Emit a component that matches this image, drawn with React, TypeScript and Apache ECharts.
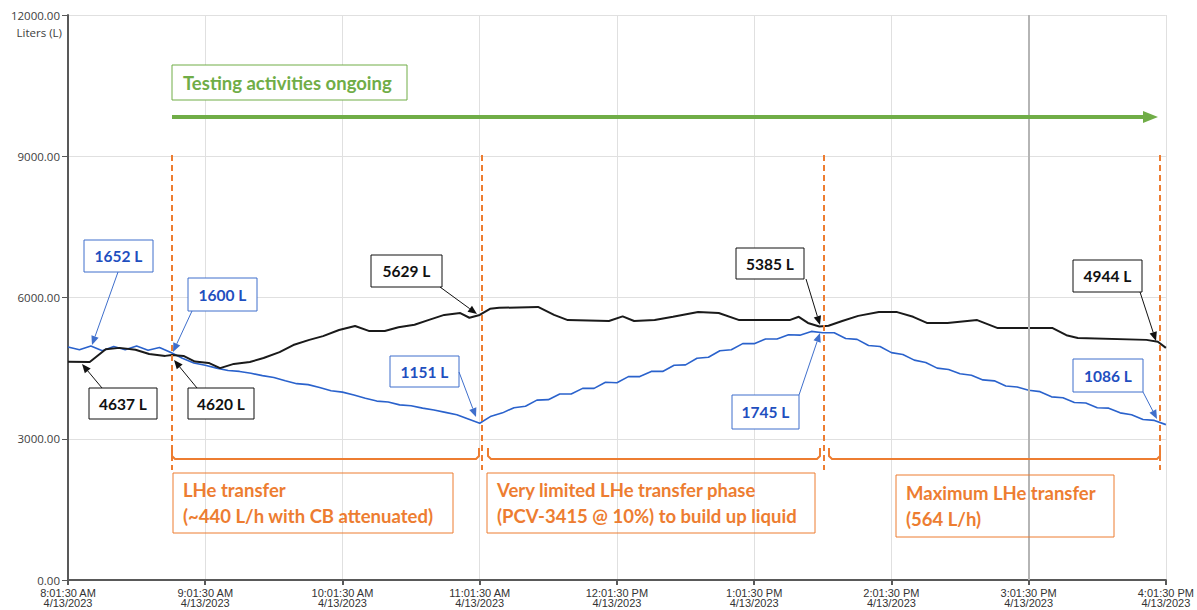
import React, { useEffect, useRef } from "react";
import * as echarts from "echarts";

// ---- data ----
const startTime = "08:01:30";
const xTickDate = "4/13/2023";
const yTicks = [0, 3000, 6000, 9000, 12000];

const blackTimes = [
  "08:01:30", "08:11:00", "08:18:00", "08:24:00", "08:31:00", "08:37:00", "08:44:00", "08:47:00",
  "08:52:00", "08:57:00", "09:03:00", "09:08:00", "09:14:00", "09:21:00", "09:27:00", "09:34:00",
  "09:40:00", "09:47:00", "09:53:00", "10:00:00", "10:07:00", "10:13:00", "10:20:00", "10:26:00",
  "10:33:00", "10:39:00", "10:46:00", "10:53:00", "10:57:00", "11:01:30", "11:06:00", "11:10:00",
  "11:27:00", "11:34:00", "11:40:00", "11:58:00", "12:04:00", "12:09:00", "12:18:00", "12:26:00",
  "12:37:00", "12:46:00", "12:55:00", "13:17:00", "13:21:00", "13:25:00", "13:30:00", "13:34:00",
  "13:40:00", "13:47:00", "13:56:00", "14:04:00", "14:11:00", "14:17:00", "14:26:00", "14:39:00",
  "14:48:00", "15:12:00", "15:18:00", "15:23:00", "15:53:00", "15:58:00", "16:01:30",
];
const blackValues = [
  4637, 4630, 4900, 4930, 4890, 4800, 4760, 4780,
  4760, 4640, 4610, 4500, 4590, 4630, 4715, 4840,
  4990, 5100, 5180, 5310, 5395, 5290, 5290, 5370,
  5420, 5520, 5630, 5670, 5570, 5629, 5760, 5780,
  5800, 5630, 5520, 5500, 5600, 5500, 5520, 5590,
  5690, 5670, 5520, 5520, 5590, 5460, 5385, 5400,
  5500, 5610, 5690, 5690, 5590, 5460, 5460, 5520,
  5350, 5350, 5200, 5140, 5100, 5060, 4930,
];

// blue series sampled every 5 minutes from 08:01:30
const blueStepMin = 5;
const blueValues = [
  4950, 4890, 4970, 4870, 4960, 4890, 4970, 4880, 4940, 4830,
  4710, 4610, 4560, 4500, 4450, 4430, 4390, 4340, 4300, 4230,
  4170, 4150, 4090, 4020, 3990, 3930, 3860, 3800, 3780, 3720,
  3700, 3650, 3610, 3560, 3510, 3420, 3330, 3480, 3550, 3660,
  3690, 3820, 3830, 3950, 3950, 4070, 4070, 4200, 4190, 4320,
  4320, 4430, 4430, 4560, 4570, 4710, 4730, 4870, 4890, 5020,
  5020, 5120, 5120, 5210, 5200, 5280, 5250, 5250, 5130, 5110,
  4980, 4960, 4830, 4790, 4670, 4620, 4500, 4470, 4380, 4350,
  4250, 4230, 4120, 4100, 4030, 4000, 3890, 3870, 3770, 3760,
  3660, 3650, 3550, 3510, 3410, 3390, 3300,
];

const callouts = [
  { text: "1652 L", kind: "blue", box: [84, 240, 69, 32], from: [118, 272], to: [92, 345] },
  { text: "1600 L", kind: "blue", box: [188, 278, 69, 33], from: [192, 311], to: [173, 352] },
  { text: "4637 L", kind: "black", box: [89, 388, 68, 31], from: [102, 388], to: [82, 364] },
  { text: "4620 L", kind: "black", box: [188, 388, 66, 31], from: [197, 388], to: [174, 360] },
  { text: "5629 L", kind: "black", box: [371, 255, 71, 32], from: [440, 287], to: [477, 314] },
  { text: "1151 L", kind: "blue", box: [390, 356, 69, 31], from: [459, 372], to: [476, 417] },
  { text: "5385 L", kind: "black", box: [736, 248, 68, 31], from: [806, 279], to: [820, 325] },
  { text: "1745 L", kind: "blue", box: [732, 395, 67, 34], from: [799, 395], to: [820, 333] },
  { text: "4944 L", kind: "black", box: [1073, 260, 69, 32], from: [1140, 292], to: [1156, 341] },
  { text: "1086 L", kind: "blue", box: [1073, 359, 70, 33], from: [1143, 392], to: [1157, 419] },
];

const phaseTexts = [
  { lines: "LHe transfer\n(~440 L/h with CB attenuated)", box: [173, 473, 280, 60] },
  { lines: "Very limited LHe transfer phase\n(PCV-3415 @ 10%) to build up liquid", box: [487, 473, 328, 60] },
  { lines: "Maximum LHe transfer\n(564 L/h)", box: [896, 475, 218, 62] },
];
const dashedXs = [172, 482, 824, 1160];
const braces = [[172, 479], [488, 820], [829, 1160]];

// ---- helpers ----
function toSec(t: string) {
  const [h, m, s] = t.split(":").map(Number);
  return h * 3600 + m * 60 + (s || 0);
}
const startSec = toSec(startTime);
const minutesFrom = (t: string) => (toSec(t) - startSec) / 60;

function fmtTick(min: number) {
  const total = startSec + Math.round(min * 60);
  let h = Math.floor(total / 3600);
  const m = Math.floor((total % 3600) / 60);
  const s = total % 60;
  const ap = h >= 12 ? "PM" : "AM";
  h = h % 12 === 0 ? 12 : h % 12;
  const pad = (n: number) => String(n).padStart(2, "0");
  return `${h}:${pad(m)}:${pad(s)} ${ap}\n${xTickDate}`;
}

const ORANGE = "#ED7D31";
const GREEN = "#70AD47";
const BLUE_LINE = "#2A62CC";
const BLUE_TEXT = "#1F4FBF";
const BLUE_BORDER = "#3F6FCC";
const Z = 100;

function arrow(from: number[], to: number[], color: string) {
  const [x1, y1] = from;
  const [x2, y2] = to;
  const dx = x2 - x1, dy = y2 - y1;
  const len = Math.hypot(dx, dy);
  const ux = dx / len, uy = dy / len;
  const hl = 9, hw = 3.8;
  const bx = x2 - ux * hl, by = y2 - uy * hl;
  return [
    { type: "line", z: Z, silent: true, shape: { x1, y1, x2: bx, y2: by }, style: { stroke: color, lineWidth: 1 } },
    {
      type: "polygon", z: Z, silent: true,
      shape: { points: [[x2, y2], [bx - uy * hw, by + ux * hw], [bx + uy * hw, by - ux * hw]] },
      style: { fill: color },
    },
  ];
}

export default function App() {
  const ref = useRef<HTMLDivElement>(null);
  useEffect(() => {
    if (!ref.current) return;
    const chart = echarts.init(ref.current, null, { renderer: "svg" });

    const blackData = blackTimes.map((t, i) => [minutesFrom(t), blackValues[i]]);
    const blueData = blueValues.map((v, i) => [i * blueStepMin, v]);

    const graphic: any[] = [];
    // y-axis unit
    graphic.push({
      type: "text", z: Z, x: 62, y: 32, silent: true,
      style: { text: "Liters (L)", fill: "#404040", fontSize: 11.5, fontFamily: "Open Sans", align: "right", verticalAlign: "middle" },
    });
    // green testing box + arrow
    graphic.push({
      type: "rect", z: Z, silent: true, shape: { x: 172, y: 65, width: 235, height: 35 },
      style: { fill: "#fff", stroke: GREEN, lineWidth: 1 },
    });
    graphic.push({
      type: "text", z: Z + 1, x: 183, y: 83, silent: true,
      style: { text: "Testing activities ongoing", fill: GREEN, fontSize: 18.5, fontWeight: "bold", fontFamily: "Lato", align: "left", verticalAlign: "middle" },
    });
    graphic.push({ type: "line", z: Z, silent: true, shape: { x1: 172, y1: 117, x2: 1146, y2: 117 }, style: { stroke: GREEN, lineWidth: 4 } });
    graphic.push({ type: "polygon", z: Z, silent: true, shape: { points: [[1143, 111], [1158, 117], [1143, 123]] }, style: { fill: GREEN } });
    // dashed orange verticals
    dashedXs.forEach((x) => {
      graphic.push({
        type: "line", z: Z, silent: true, shape: { x1: x, y1: 155, x2: x, y2: 470 },
        style: { stroke: ORANGE, lineWidth: 2, lineDash: [6, 4] },
      });
    });
    // braces
    braces.forEach(([a, b]) => {
      graphic.push({
        type: "polyline", z: Z, silent: true,
        shape: { points: [[a, 448], [a, 456], [a + 3, 459], [b - 3, 459], [b, 456], [b, 448]] },
        style: { stroke: ORANGE, lineWidth: 2, fill: null },
      });
    });
    // phase text boxes
    phaseTexts.forEach((p) => {
      const [x, y, w, h] = p.box;
      graphic.push({ type: "rect", z: Z, silent: true, shape: { x, y, width: w, height: h }, style: { fill: "rgba(255,255,255,0)", stroke: ORANGE, lineWidth: 1 } });
      graphic.push({
        type: "text", z: Z + 1, x: x + 10, y: y + h / 2, silent: true,
        style: { text: p.lines, fill: ORANGE, fontSize: 18.5, fontWeight: "bold", fontFamily: "Lato", lineHeight: 26, align: "left", verticalAlign: "middle" },
      });
    });
    // callouts
    callouts.forEach((c) => {
      const isBlue = c.kind === "blue";
      const border = isBlue ? BLUE_BORDER : "#111";
      const tc = isBlue ? BLUE_TEXT : "#111";
      const [x, y, w, h] = c.box;
      graphic.push({ type: "rect", z: Z, silent: true, shape: { x, y, width: w, height: h }, style: { fill: "#fff", stroke: border, lineWidth: 1 } });
      graphic.push({
        type: "text", z: Z + 1, x: x + w / 2, y: y + h / 2, silent: true,
        style: { text: c.text, fill: tc, fontSize: 15.5, fontWeight: "bold", fontFamily: "Lato", align: "center", verticalAlign: "middle" },
      });
      graphic.push(...arrow(c.from, c.to, isBlue ? BLUE_BORDER : "#111"));
    });

    chart.setOption({
      animation: false,
      backgroundColor: "#fff",
      grid: { left: 68, right: 29, top: 15, bottom: 30 },
      xAxis: {
        type: "value", min: 0, max: 480, interval: 60,
        axisLine: { show: true, lineStyle: { color: "#595959", width: 2 } },
        axisTick: { show: true, length: 5, lineStyle: { color: "#595959", width: 2 } },
        axisLabel: {
          formatter: (v: number) => fmtTick(v), color: "#333", fontSize: 11, lineHeight: 10,
          fontFamily: "Liberation Sans", margin: 8,
        },
        splitLine: { show: true, lineStyle: { color: "#e0e0e0", width: 1 } },
      },
      yAxis: {
        type: "value", min: yTicks[0], max: yTicks[yTicks.length - 1], interval: 3000,
        axisLine: { show: true, lineStyle: { color: "#595959", width: 2 } },
        axisTick: { show: true, length: 6, lineStyle: { color: "#595959", width: 1 } },
        axisLabel: { formatter: (v: number) => v.toFixed(2), color: "#404040", fontSize: 11.5, fontFamily: "Open Sans", margin: 8 },
        splitLine: { show: true, lineStyle: { color: "#e0e0e0", width: 1 } },
      },
      series: [
        {
          type: "line", name: "blue", data: blueData, showSymbol: false, symbol: "none",
          lineStyle: { color: BLUE_LINE, width: 1.6 }, z: 3,
        },
        {
          type: "line", name: "black", data: blackData, showSymbol: false, symbol: "none",
          lineStyle: { color: "#1a1a1a", width: 2 }, z: 4,
          markLine: {
            silent: true, symbol: "none", label: { show: false },
            lineStyle: { color: "#b5b5b5", width: 2, type: "solid" },
            data: [{ xAxis: 420 }],
          },
        },
      ],
      graphic,
    });
    return () => chart.dispose();
  }, []);
  return <div ref={ref} style={{ position: "absolute", left: 0, top: 0, width: 1197, height: 610 }} />;
}
